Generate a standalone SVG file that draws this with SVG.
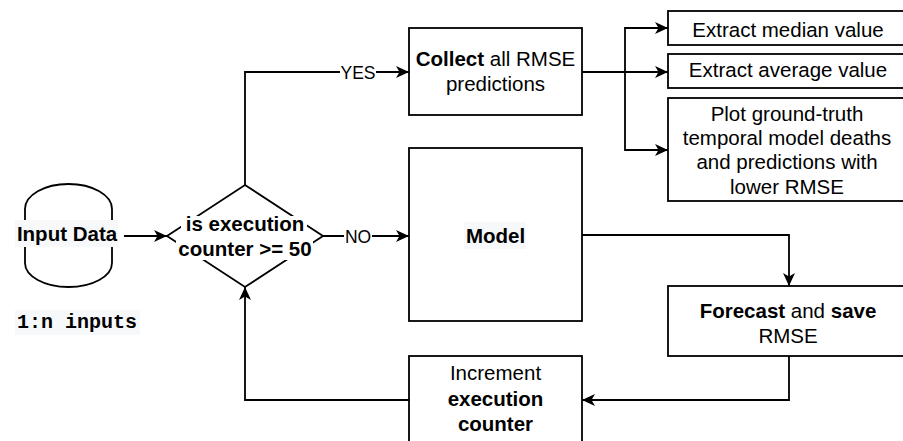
<svg xmlns="http://www.w3.org/2000/svg" width="903" height="441" viewBox="0 0 903 441">
<style>
.box{fill:#fff;stroke:#000;stroke-width:1.8}
.edge{fill:none;stroke:#000;stroke-width:1.8}
text{font-family:"Liberation Sans",Arial,sans-serif;fill:#000;text-anchor:middle}
.t{font-size:20.5px}
.b{font-weight:bold}
.lbl{font-size:17.5px}
.mono{font-family:"Liberation Mono","Courier New",monospace;font-weight:bold;font-size:20px}
.lbg{fill:#f7f8f9}
</style>
<defs>
<marker id="arr" markerUnits="userSpaceOnUse" markerWidth="14" markerHeight="12" viewBox="0 0 14 12" refX="13" refY="6" orient="auto">
<path d="M0,0 L13,6 L0,12 L3.5,6 Z" fill="#000"/>
</marker>
</defs>
<rect width="903" height="441" fill="#fff"/>
<g id="connectors">
<path class="edge" d="M124,236 H167" marker-end="url(#arr)"/>
<path class="edge" d="M245,185 V72 H409" marker-end="url(#arr)"/>
<path class="edge" d="M323,236 H409" marker-end="url(#arr)"/>
<path class="edge" d="M582,72 H625 V28 H668" marker-end="url(#arr)"/>
<path class="edge" d="M582,72 H668" marker-end="url(#arr)"/>
<path class="edge" d="M582,72 H625 V150 H668" marker-end="url(#arr)"/>
<path class="edge" d="M582,235 H789 V286" marker-end="url(#arr)"/>
<path class="edge" d="M789,356 V400 H582" marker-end="url(#arr)"/>
<path class="edge" d="M409,400 H245 V287" marker-end="url(#arr)"/>
<rect x="340" y="61" width="36" height="22" fill="#fff"/>
<text class="lbl" x="358" y="78.5">YES</text>
<rect x="344" y="225" width="28" height="22" fill="#fff"/>
<text class="lbl" x="358" y="242.5">NO</text>
</g>
<g id="input-data">
<path class="box" d="M25,209 A43.5,25 0 0 1 112,209 V263 A43.5,24 0 0 1 25,263 Z"/>
<rect class="lbg" x="15" y="220" width="103" height="27"/>
<text class="t b" x="67" y="240.5">Input Data</text>
<rect class="lbg" x="15" y="310" width="125" height="25"/>
<text class="mono" x="77" y="328">1:n inputs</text>
</g>
<g id="decision">
<path class="box" d="M245,185 L323,236 L245,287 L167,236 Z"/>
<rect x="181" y="216" width="126" height="21" fill="#fff"/>
<rect x="176" y="237" width="137" height="23" fill="#fff"/>
<text class="t b" x="245" y="231">is execution</text>
<text class="t b" x="245" y="256">counter &gt;= 50</text>
</g>
<g id="collect">
<rect class="box" x="409" y="28" width="173" height="87"/>
<text class="t" x="495.5" y="66"><tspan class="b">Collect</tspan> all RMSE</text>
<text class="t" x="495.5" y="91">predictions</text>
</g>
<g id="median">
<rect class="box" x="668" y="11" width="245" height="34"/>
<text class="t" x="788" y="37">Extract median value</text>
</g>
<g id="average">
<rect class="box" x="668" y="54" width="245" height="34"/>
<text class="t" x="788" y="77">Extract average value</text>
</g>
<g id="plot">
<rect class="box" x="668" y="98" width="245" height="103"/>
<text class="t" x="787" y="120.5">Plot ground-truth</text>
<text class="t" x="787" y="145">temporal model deaths</text>
<text class="t" x="787" y="169">and predictions with</text>
<text class="t" x="787" y="193.5">lower RMSE</text>
</g>
<g id="model">
<rect class="box" x="409" y="148" width="173" height="173"/>
<rect class="lbg" x="464" y="222" width="62" height="27"/>
<text class="t b" x="495.5" y="243">Model</text>
</g>
<g id="forecast">
<rect class="box" x="668" y="286" width="245" height="70"/>
<text class="t" x="788" y="318"><tspan class="b">Forecast</tspan> and <tspan class="b">save</tspan></text>
<text class="t" x="788" y="343">RMSE</text>
</g>
<g id="increment">
<rect class="box" x="409" y="356" width="173" height="95"/>
<text class="t" x="495.5" y="380">Increment</text>
<text class="t b" x="495.5" y="406">execution</text>
<text class="t b" x="495.5" y="431">counter</text>
</g>
</svg>
